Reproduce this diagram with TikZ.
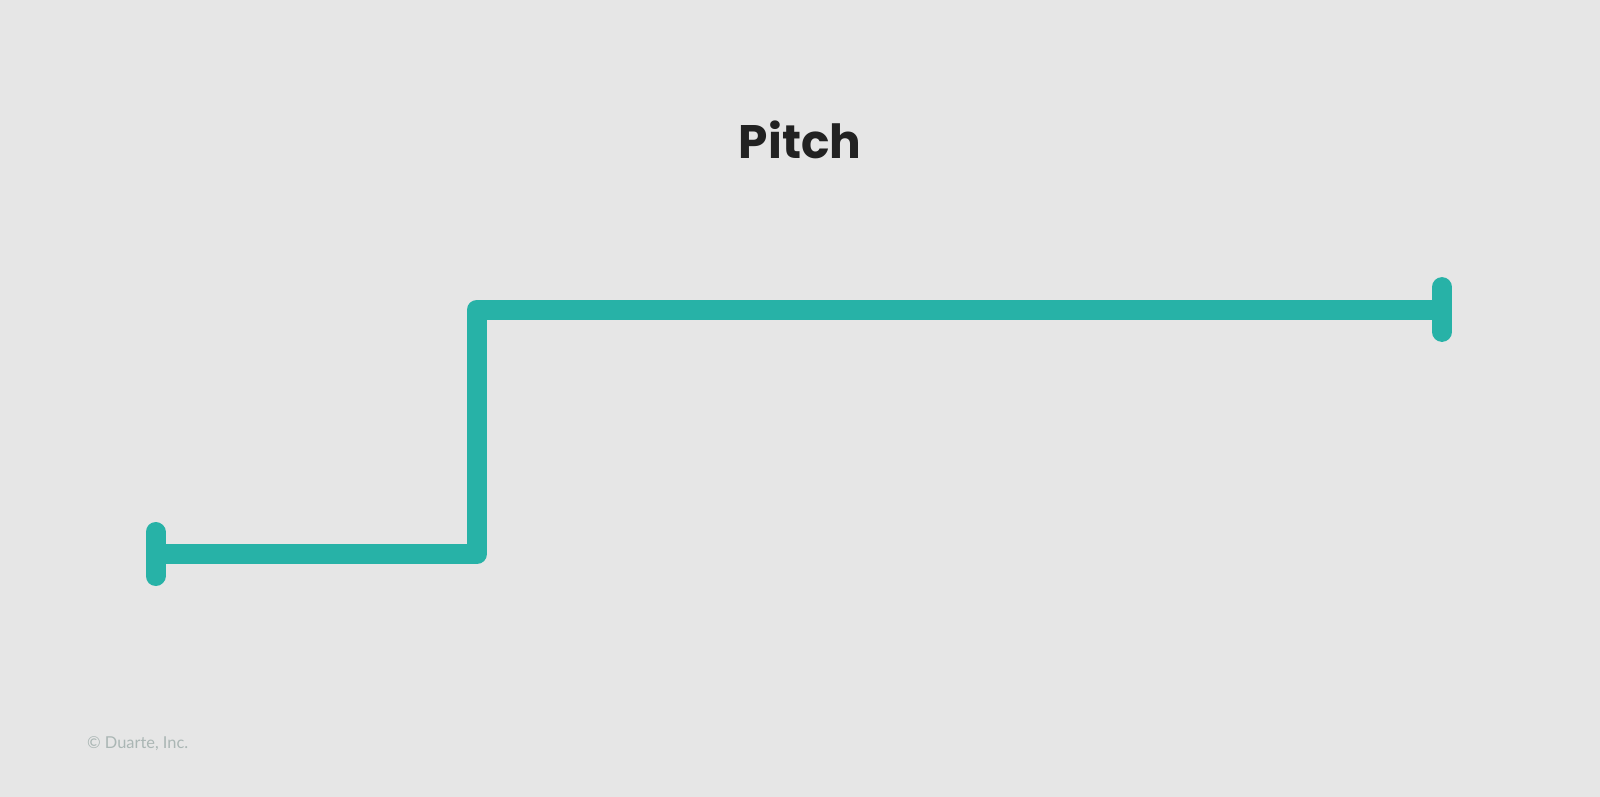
\documentclass[tikz,border=0pt]{standalone}
\usepackage{fontspec}
\setmainfont{Poppins}
\newfontfamily\notefont{Lato}
\definecolor{bgGrey}{HTML}{E6E6E6}
\definecolor{pitchTeal}{HTML}{27B2A7}
\definecolor{titleInk}{HTML}{222222}
\definecolor{noteInk}{HTML}{AAB6B4}
\tikzset{%
    pitchline/.style={line width=10pt,draw=pitchTeal,line join=round},
    endcap/.style={line width=10pt,draw=pitchTeal,line cap=round},
    title/.style={font=\fontsize{23.5}{28}\selectfont\bfseries,text=titleInk,anchor=base,inner sep=0pt},
    note/.style={font=\notefont\fontsize{8.2}{10}\selectfont,text=noteInk,anchor=base west,inner sep=0pt},
}

\begin{document}
\begin{tikzpicture}[x=0.5pt,y=-0.5pt]
	
	\fill[bgGrey] (0,0) rectangle (1600,797);
	\useasboundingbox (0,0) rectangle (1600,797);
	
	\node[title] (pitchTitle) at (800,158) {Pitch};
	
	%path points
	\coordinate (start) at (155.5,554);
	\coordinate (knee) at (477,554);
	\coordinate (rise) at (477,309.5);
	\coordinate (finish) at (1442,309.5);
	%%%%%%%%%%%%%%%%%%%
	
	\draw[pitchline] (start) -- (knee) -- (rise) -- (finish);
	
	\draw[endcap] ([yshift=11pt]start) -- ([yshift=-11pt]start);
	\draw[endcap] ([yshift=11.2pt]finish) -- ([yshift=-11.2pt]finish);
	
	\node[note] (credit) at (86.7,748) {© Duarte, Inc.};
	
\end{tikzpicture}
\end{document}
